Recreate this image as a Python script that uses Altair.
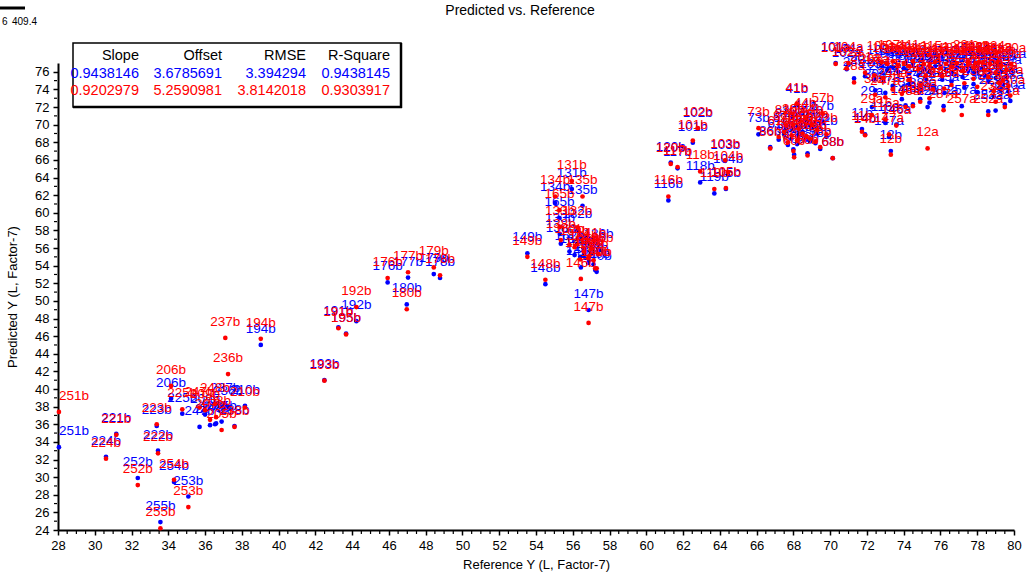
import altair as alt
import pandas as pd

# ---------------- data ----------------
labels = [
    "251b", "224b", "221b", "252b", "223b", "222b", "255b", "254b", "253b", "206b", "225b",
    "209b", "207b", "237b", "236b", "208b", "205b", "238b", "210b", "247b", "248b",
    "194b", "193b", "191b", "195b", "192b", "176b", "177b", "180b", "179b", "178b",
    "149b", "148b", "147b", "146b", "131b", "134b", "135b", "165b", "132b", "133b", "138b",
    "162b", "164b", "161b", "163b", "139b", "140b", "141b", "142b", "190b", "145b", "136b",
    "102b", "101b", "120b", "117b", "118b", "116b", "103b", "104b", "119b", "105b",
    "73b", "86b", "88b", "60b", "66b", "58b", "68b", "41b", "57b", "44b", "30b", "80b",
    "87b", "89b", "82b", "83b", "84b", "85b", "61b", "62b", "63b", "64b", "59b", "65b", "81b",
    "11b", "14b", "147a", "12b", "12a", "29a", "116a", "146a",
    "101a", "104a", "102a", "28a", "201a", "203a", "204a", "30a", "15a", "148a", "88a", "48a", "8a",
    "105a", "106a", "107a", "108a", "109a", "110a", "111a", "112a", "113a", "114a", "115a",
    "117a", "118a", "119a", "120a", "121a", "122a", "123a", "124a", "125a", "126a", "127a",
    "128a", "129a", "130a",
    "221a", "222a", "223a", "224a", "225a", "226a", "227a", "228a", "229a", "230a", "231a",
    "232a", "252a", "257a", "287a",
    "235a", "236a", "237a", "238a", "240a", "241a", "242a", "243a", "244a", "245a", "246a", "247a",
]

reference = [
    28.05, 30.61, 31.17, 32.34, 33.37, 33.44, 33.57, 34.31, 35.09, 34.15, 34.76,
    36.0, 36.27, 37.1, 37.25, 36.6, 36.9, 37.6, 38.17, 35.7, 36.54,
    39.03, 42.49, 43.25, 43.67, 44.23, 45.93, 47.04, 46.97, 48.44, 48.78,
    53.53, 54.51, 56.86, 56.44, 55.95, 55.04, 56.53, 55.28, 56.25, 55.3, 55.35,
    55.82, 56.1, 56.6, 56.9, 57.13, 57.3, 57.0, 56.84, 57.22, 56.4, 57.4,
    62.8, 62.53, 61.33, 61.7, 62.93, 61.2, 64.29, 64.45, 63.7, 64.33,
    66.1, 66.74, 68.0, 68.04, 68.77, 69.46, 70.14, 68.19, 69.6, 68.64, 68.0, 69.3,
    67.5, 67.9, 68.3, 68.7, 69.0, 68.5, 67.2, 69.8, 68.2, 68.9, 67.7, 69.2, 67.6,
    71.73, 71.9, 73.2, 73.3, 75.3, 72.27, 73.0, 73.6,
    70.3, 71.0, 70.9, 71.3, 71.9, 72.4, 72.9, 72.45, 73.9, 74.1, 74.9, 74.5, 75.4,
    72.8, 73.1, 73.4, 73.7, 74.0, 74.3, 74.5, 74.8, 75.1, 75.4, 75.7,
    76.0, 76.3, 76.6, 76.9, 77.2, 77.5, 77.8, 78.1, 78.4, 78.7, 79.0,
    79.3, 79.6, 79.85,
    77.5, 77.9, 78.3, 79.1, 76.2, 78.6, 79.4, 79.7, 78.9, 79.8, 79.5,
    79.0, 78.6, 77.16, 76.17,
    75.6, 76.6, 77.3, 78.0, 74.9, 74.3, 75.2, 76.1, 73.4, 77.8, 79.2, 73.0,
]

pred_blue = [
    33.4, 32.3, 34.9, 29.9, 35.8, 33.0, 24.9, 29.45, 27.8, 38.9, 37.2,
    37.1, 35.9, 38.3, 38.0, 36.1, 36.3, 35.8, 38.1, 35.7, 36.0,
    45.0, 41.0, 47.0, 46.3, 47.7, 52.1, 52.65, 49.6, 53.05, 52.6,
    55.4, 51.9, 48.97, 53.8, 62.7, 61.1, 60.8, 59.4, 58.0, 57.6, 56.5,
    55.6, 55.2, 55.2, 54.6, 54.15, 53.3, 55.4, 54.3, 53.5, 55.0, 55.8,
    69.55, 67.95, 65.7, 65.05, 63.45, 61.4, 65.9, 64.3, 62.2, 62.7,
    68.9, 67.45, 67.2, 66.6, 66.75, 67.25, 66.2, 72.2, 70.3, 70.4, 69.7, 69.0,
    68.9, 68.4, 68.9, 68.3, 69.6, 69.2, 68.3, 68.6, 67.8, 68.1, 67.7, 67.9, 69.5,
    69.5, 68.9, 68.6, 67.0, 72.0, 72.0, 70.2, 70.0,
    77.0, 76.8, 76.3, 75.25, 75.5, 75.1, 74.9, 73.9, 72.9, 72.2, 72.9, 72.3, 72.5,
    76.7, 76.2, 76.5, 76.0, 76.4, 75.8, 76.9, 75.6, 76.3, 76.0, 76.6,
    75.7, 76.2, 75.9, 76.5, 75.4, 76.1, 75.8, 76.4, 75.6, 76.1, 75.3,
    76.0, 75.5, 76.2,
    76.6, 76.9, 76.5, 76.7, 73.6, 74.9, 74.5, 73.8, 73.2, 72.7, 72.3,
    71.6, 71.5, 72.1, 72.1,
    74.4, 74.9, 74.2, 73.7, 73.9, 74.6, 75.2, 75.1, 74.4, 74.6, 74.1, 73.6,
]

pred_red = [
    37.4, 32.1, 34.8, 29.1, 36.0, 32.7, 24.2, 29.7, 26.6, 40.35, 37.7,
    37.6, 36.5, 45.8, 41.7, 36.8, 35.35, 35.7, 37.9, 37.9, 38.3,
    45.7, 40.95, 46.9, 46.2, 49.3, 52.6, 53.25, 49.05, 53.8, 52.9,
    55.0, 52.4, 47.5, 52.5, 63.6, 61.85, 61.85, 60.3, 58.35, 58.4, 56.9,
    56.35, 56.1, 55.6, 55.1, 54.6, 53.7, 55.9, 54.85, 53.7, 54.7, 55.3,
    69.6, 68.2, 65.55, 65.2, 64.7, 61.85, 65.95, 64.6, 62.7, 62.8,
    69.6, 67.3, 67.0, 66.3, 66.5, 67.45, 66.2, 72.4, 71.25, 70.7, 70.0, 69.4,
    69.2, 68.8, 69.5, 68.7, 70.0, 69.0, 68.6, 68.9, 68.2, 68.4, 68.0, 68.1, 69.9,
    69.2, 68.8, 68.9, 66.6, 67.3, 71.1, 70.6, 69.9,
    76.9, 77.0, 76.4, 74.8, 75.9, 75.6, 75.3, 73.4, 73.5, 72.0, 72.6, 72.1, 73.0,
    77.1, 76.9, 77.2, 76.8, 77.0, 76.6, 77.2, 76.3, 76.9, 76.7, 77.1,
    76.4, 76.9, 76.6, 77.0, 76.1, 76.8, 76.5, 77.1, 76.2, 76.9, 75.9,
    76.7, 76.2, 76.9,
    77.2, 77.0, 77.0, 77.1, 74.1, 75.4, 75.0, 74.4, 73.8, 73.3, 72.0,
    72.6, 71.1, 71.1, 71.65,
    74.0, 74.5, 74.7, 74.3, 74.5, 75.1, 75.6, 75.5, 74.0, 75.2, 74.7, 73.1,
]

stat_headers = ["Slope", "Offset", "RMSE", "R-Square"]
stats_blue = ["0.9438146", "3.6785691", "3.394294", "0.9438145"]
stats_red = ["0.9202979", "5.2590981", "3.8142018", "0.9303917"]

x_ticks = list(range(28, 81, 2))
y_ticks = list(range(24, 77, 2))
x_minor = [v / 2 for v in range(56, 161) if v % 4 != 0]
y_minor = [v for v in range(25, 77, 2)]

# ---------------- chart ----------------
FONT = "Liberation Sans"
BLUE = "#0000ff"
RED = "#ff0000"
LABEL_SIZE = 13.5

df = pd.DataFrame({"label": labels, "ref": reference, "blue": pred_blue, "red": pred_red})
xs = alt.Scale(domain=[28, 80], nice=False, zero=False)
ys = alt.Scale(domain=[24, 77], nice=False, zero=False)

x_axis = alt.Axis(
    values=x_ticks, title="Reference Y (L, Factor-7)", format="d",
    labelFontSize=13, titleFontSize=13, titleFontWeight="normal",
    labelFont=FONT, titleFont=FONT, labelColor="black", titleColor="black",
    domainColor="black", domainWidth=2, tickColor="black", tickWidth=1.5,
    tickSize=5, labelPadding=4, titlePadding=6, grid=False, labelFlush=False)
y_axis = alt.Axis(
    values=y_ticks, title="Predicted Y (L, Factor-7)", format="d",
    labelFontSize=13, titleFontSize=13, titleFontWeight="normal",
    labelFont=FONT, titleFont=FONT, labelColor="black", titleColor="black",
    domainColor="black", domainWidth=2, tickColor="black", tickWidth=1.5,
    tickSize=5, labelPadding=4, titlePadding=15, grid=False, labelFlush=False)

base = alt.Chart(df)

blue_pts = base.mark_circle(size=22, color=BLUE, opacity=1).encode(
    x=alt.X("ref:Q", scale=xs, axis=x_axis),
    y=alt.Y("blue:Q", scale=ys, axis=y_axis),
)


def labels_layer(field, color):
    center = base.transform_filter(alt.datum.ref >= 28.6).mark_text(
        color=color, fontSize=LABEL_SIZE, font=FONT, dy=-12, baseline="alphabetic", align="center"
    ).encode(
        x=alt.X("ref:Q", scale=xs, axis=x_axis),
        y=alt.Y(f"{field}:Q", scale=ys, axis=y_axis),
        text="label:N",
    )
    left = base.transform_filter(alt.datum.ref < 28.6).mark_text(
        color=color, fontSize=LABEL_SIZE, font=FONT, dy=-12, baseline="alphabetic", align="left"
    ).encode(
        x=alt.X("ref:Q", scale=xs, axis=x_axis),
        y=alt.Y(f"{field}:Q", scale=ys, axis=y_axis),
        text="label:N",
    )
    return center + left


red_pts = base.mark_circle(size=22, color=RED, opacity=1).encode(
    x=alt.X("ref:Q", scale=xs, axis=x_axis),
    y=alt.Y("red:Q", scale=ys, axis=y_axis),
)

# minor ticks
xminor_df = pd.DataFrame({"m": x_minor})
yminor_df = pd.DataFrame({"m": y_minor})
x_minor_layer = alt.Chart(xminor_df).mark_rule(color="black", strokeWidth=1.2).encode(
    x=alt.X("m:Q", scale=xs, axis=x_axis), y=alt.value(468), y2=alt.value(471))
y_minor_layer = alt.Chart(yminor_df).mark_rule(color="black", strokeWidth=1.2).encode(
    y=alt.Y("m:Q", scale=ys, axis=y_axis), x=alt.value(-1), x2=alt.value(-4))

# stats table
one = alt.Data(values=[{"a": 1}])
box = alt.Chart(one).mark_rect(fill="white", stroke="black", strokeWidth=1.5).encode(
    x=alt.value(15), x2=alt.value(343), y=alt.value(-20), y2=alt.value(44))
box_r = alt.Chart(one).mark_rule(color="black", strokeWidth=2.5).encode(
    x=alt.value(343), y=alt.value(-20), y2=alt.value(45))
box_b = alt.Chart(one).mark_rule(color="black", strokeWidth=2.5).encode(
    x=alt.value(15), x2=alt.value(344), y=alt.value(44))

col_right = [81, 164, 248, 332]
row_y = [-7, 11, 28]
table_layers = []
for i in range(4):
    for r, (txt, col) in enumerate([(stat_headers[i], "black"), (stats_blue[i], BLUE), (stats_red[i], RED)]):
        table_layers.append(
            alt.Chart(one).mark_text(align="right", baseline="middle", fontSize=14.5, font=FONT, color=col).encode(
                x=alt.value(col_right[i]), y=alt.value(row_y[r]), text=alt.value(txt)))

# clipped colour-bar fragment at top-left
frag_bar = alt.Chart(one).mark_rule(color="black", strokeWidth=3).encode(
    x=alt.value(-58), x2=alt.value(-33), y=alt.value(-55))
frag_t1 = alt.Chart(one).mark_text(align="left", baseline="middle", fontSize=10, font=FONT, color="black").encode(
    x=alt.value(-56), y=alt.value(-41), text=alt.value("6"))
frag_t2 = alt.Chart(one).mark_text(align="left", baseline="middle", fontSize=10, font=FONT, color="black").encode(
    x=alt.value(-46), y=alt.value(-41), text=alt.value("409.4"))

# chart title
title_mark = alt.Chart(one).mark_text(align="center", baseline="middle", fontSize=14, font=FONT, color="black").encode(
    x=alt.value(462), y=alt.value(-52), text=alt.value("Predicted vs. Reference"))

chart = alt.layer(
    blue_pts, labels_layer("blue", BLUE), red_pts, labels_layer("red", RED),
    x_minor_layer, y_minor_layer,
    box, box_r, box_b, *table_layers,
    frag_bar, frag_t1, frag_t2, title_mark,
).properties(
    width=956, height=467,
    autosize=alt.AutoSizeParams(type="none"),
    padding={"left": 58, "top": 63, "right": 14, "bottom": 46},
    background="white",
).configure_view(stroke=None)

chart.save("out.html", embed_options={"renderer": "svg", "actions": False})
